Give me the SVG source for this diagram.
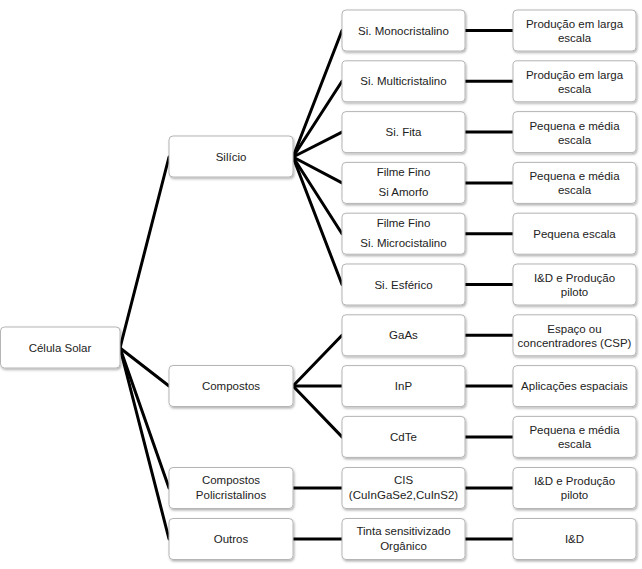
<svg xmlns="http://www.w3.org/2000/svg" width="642" height="569" viewBox="0 0 642 569">
<style>
.b{fill:#fff;stroke:#b5b5b5;stroke-width:1;filter:url(#sh)}
.t{font-family:"Liberation Sans",Arial,sans-serif;font-size:11.5px;fill:#222;text-anchor:middle}
.c line{stroke:#000;stroke-width:3;stroke-linecap:round}
</style>
<defs>
<filter id="sh" x="-10%" y="-20%" width="130%" height="160%">
<feDropShadow dx="1" dy="1.5" stdDeviation="1" flood-color="#000" flood-opacity="0.3"/>
</filter>
</defs>
<g class="c" id="connectors">
<line x1="120" y1="348" x2="169" y2="157"/>
<line x1="120" y1="348" x2="169" y2="386"/>
<line x1="120" y1="348" x2="169" y2="488"/>
<line x1="120" y1="348" x2="169" y2="539"/>
<line x1="293" y1="157" x2="342" y2="30.5"/>
<line x1="293" y1="157" x2="342" y2="81.3"/>
<line x1="293" y1="157" x2="342" y2="132.1"/>
<line x1="293" y1="157" x2="342" y2="182.9"/>
<line x1="293" y1="157" x2="342" y2="233.7"/>
<line x1="293" y1="157" x2="342" y2="284.5"/>
<line x1="293" y1="386" x2="342" y2="335.3"/>
<line x1="293" y1="386" x2="342" y2="386.1"/>
<line x1="293" y1="386" x2="342" y2="436.9"/>
<line x1="293" y1="488" x2="342" y2="488"/>
<line x1="293" y1="539" x2="342" y2="539"/>
<line x1="465" y1="30.5" x2="513" y2="30.5"/>
<line x1="465" y1="81.3" x2="513" y2="81.3"/>
<line x1="465" y1="132.1" x2="513" y2="132.1"/>
<line x1="465" y1="182.9" x2="513" y2="182.9"/>
<line x1="465" y1="233.7" x2="513" y2="233.7"/>
<line x1="465" y1="284.5" x2="513" y2="284.5"/>
<line x1="465" y1="335.3" x2="513" y2="335.3"/>
<line x1="465" y1="386.1" x2="513" y2="386.1"/>
<line x1="465" y1="436.9" x2="513" y2="436.9"/>
<line x1="465" y1="488" x2="513" y2="488"/>
<line x1="465" y1="539" x2="513" y2="539"/>
</g>
<g id="celula"><rect class="b" x="0.5" y="327" width="119.5" height="41" rx="4"/><text class="t" x="60" y="352">Célula Solar</text></g>
<g id="silicio"><rect class="b" x="169" y="136" width="124" height="41" rx="4"/><text class="t" x="231" y="161">Silício</text></g>
<g id="compostos"><rect class="b" x="169" y="365.5" width="124" height="41" rx="4"/><text class="t" x="231" y="390">Compostos</text></g>
<g id="policristalinos"><rect class="b" x="169" y="467.5" width="124" height="41" rx="4"/><text class="t" x="231" y="484">Compostos</text><text class="t" x="231" y="499">Policristalinos</text></g>
<g id="outros"><rect class="b" x="169" y="518.5" width="124" height="41" rx="4"/><text class="t" x="231" y="543">Outros</text></g>

<g id="mono"><rect class="b" x="342" y="10" width="123" height="41" rx="4"/><text class="t" x="403.5" y="34.5">Si. Monocristalino</text></g>
<g id="multi"><rect class="b" x="342" y="60.8" width="123" height="41" rx="4"/><text class="t" x="403.5" y="85.3">Si. Multicristalino</text></g>
<g id="fita"><rect class="b" x="342" y="111.6" width="123" height="41" rx="4"/><text class="t" x="403.5" y="136.1">Si. Fita</text></g>
<g id="amorfo"><rect class="b" x="342" y="162.4" width="123" height="41" rx="4"/><text class="t" x="403.5" y="176">Filme Fino</text><text class="t" x="403.5" y="196">Si Amorfo</text></g>
<g id="micro"><rect class="b" x="342" y="213.2" width="123" height="41" rx="4"/><text class="t" x="403.5" y="227">Filme Fino</text><text class="t" x="403.5" y="247">Si. Microcistalino</text></g>
<g id="esferico"><rect class="b" x="342" y="264" width="123" height="41" rx="4"/><text class="t" x="403.5" y="288.5">Si. Esférico</text></g>
<g id="gaas"><rect class="b" x="342" y="314.8" width="123" height="41" rx="4"/><text class="t" x="403.5" y="339.3">GaAs</text></g>
<g id="inp"><rect class="b" x="342" y="365.6" width="123" height="41" rx="4"/><text class="t" x="403.5" y="390.1">InP</text></g>
<g id="cdte"><rect class="b" x="342" y="416.4" width="123" height="41" rx="4"/><text class="t" x="403.5" y="440.9">CdTe</text></g>
<g id="cis"><rect class="b" x="342" y="467.5" width="123" height="41" rx="4"/><text class="t" x="403.5" y="484">CIS</text><text class="t" x="403.5" y="499">(CuInGaSe2,CuInS2)</text></g>
<g id="tinta"><rect class="b" x="342" y="518.5" width="123" height="41" rx="4"/><text class="t" x="403.5" y="535">Tinta sensitivizado</text><text class="t" x="403.5" y="550">Orgânico</text></g>

<g id="r1"><rect class="b" x="513" y="10" width="123" height="41" rx="4"/><text class="t" x="574.5" y="28">Produção em larga</text><text class="t" x="574.5" y="42">escala</text></g>
<g id="r2"><rect class="b" x="513" y="60.8" width="123" height="41" rx="4"/><text class="t" x="574.5" y="78.8">Produção em larga</text><text class="t" x="574.5" y="92.8">escala</text></g>
<g id="r3"><rect class="b" x="513" y="111.6" width="123" height="41" rx="4"/><text class="t" x="574.5" y="129.6">Pequena e média</text><text class="t" x="574.5" y="143.6">escala</text></g>
<g id="r4"><rect class="b" x="513" y="162.4" width="123" height="41" rx="4"/><text class="t" x="574.5" y="180.4">Pequena e média</text><text class="t" x="574.5" y="194.4">escala</text></g>
<g id="r5"><rect class="b" x="513" y="213.2" width="123" height="41" rx="4"/><text class="t" x="574.5" y="237.7">Pequena escala</text></g>
<g id="r6"><rect class="b" x="513" y="264" width="123" height="41" rx="4"/><text class="t" x="574.5" y="282">I&amp;D e Produção</text><text class="t" x="574.5" y="296">piloto</text></g>
<g id="r7"><rect class="b" x="513" y="314.8" width="123" height="41" rx="4"/><text class="t" x="574.5" y="332.8">Espaço ou</text><text class="t" x="574.5" y="346.8">concentradores (CSP)</text></g>
<g id="r8"><rect class="b" x="513" y="365.6" width="123" height="41" rx="4"/><text class="t" x="574.5" y="390.1">Aplicações espaciais</text></g>
<g id="r9"><rect class="b" x="513" y="416.4" width="123" height="41" rx="4"/><text class="t" x="574.5" y="434.4">Pequena e média</text><text class="t" x="574.5" y="448.4">escala</text></g>
<g id="r10"><rect class="b" x="513" y="467.5" width="123" height="41" rx="4"/><text class="t" x="574.5" y="485">I&amp;D e Produção</text><text class="t" x="574.5" y="499">piloto</text></g>
<g id="r11"><rect class="b" x="513" y="518.5" width="123" height="41" rx="4"/><text class="t" x="574.5" y="543">I&amp;D</text></g>
</svg>
